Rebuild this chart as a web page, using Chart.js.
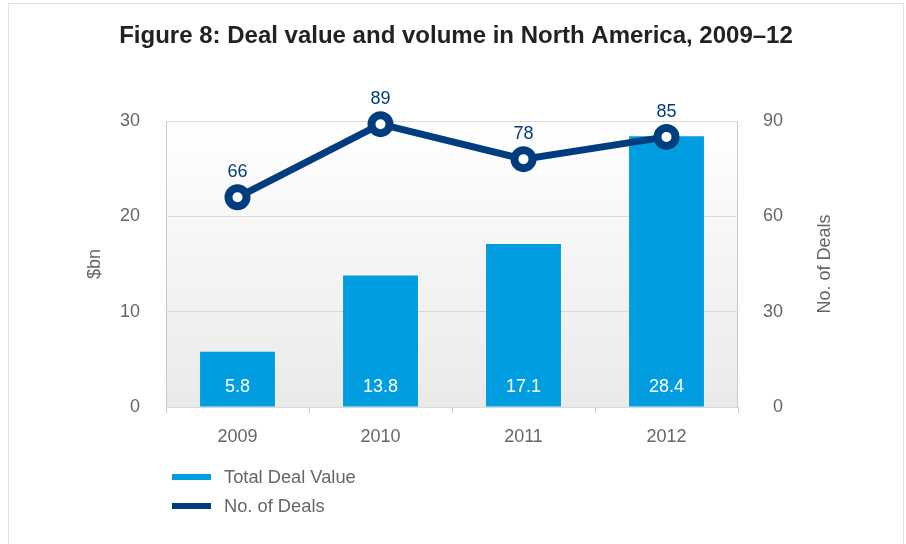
<!DOCTYPE html>
<html>
<head>
<meta charset="utf-8">
<script src="https://cdn.jsdelivr.net/npm/chart.js@4.4.0/dist/chart.umd.min.js"></script>
<style>
  body { margin: 0; background: #fff; font-family: "Liberation Sans", Arial, sans-serif; }
  #wrap { position: relative; width: 906px; height: 544px; overflow: hidden; }
  #frame { position: absolute; left: 8px; top: 3px; width: 896px; height: 600px; border: 1px solid #e3e3e3; box-sizing: border-box; }
  #myChart { position: absolute; left: 0; top: 0; }
  #legend { position: absolute; left: 172px; top: 462px; }
  .item { display: flex; align-items: center; height: 29px; font-size: 18.3px; color: #666; }
  .sw { width: 39px; height: 6px; margin-right: 13px; }
</style>
</head>
<body>
<div id="wrap">
  <div id="frame"></div>
  <canvas id="myChart" width="906" height="544"></canvas>
  <div id="legend"></div>
</div>
<script>
var years = ["2009", "2010", "2011", "2012"];
var dealValue = [5.8, 13.8, 17.1, 28.4];
var dealCount = [66, 89, 78, 85];
var leftTicks = [0, 10, 20, 30];
var rightTicks = [0, 30, 60, 90];
var titleText = "Figure 8: Deal value and volume in North America, 2009\u201312";

var barBlue = "#009ee0";
var navy = "#003d7e";
var grey = "#666666";
var fam = "'Liberation Sans', Arial, sans-serif";

// plot background + frame
var plotBg = {
  id: "plotBg",
  beforeDraw: function (chart) {
    var a = chart.chartArea, ctx = chart.ctx;
    var g = ctx.createLinearGradient(0, a.top, 0, a.bottom);
    g.addColorStop(0, "#ffffff");
    g.addColorStop(1, "#eaeaea");
    ctx.save();
    ctx.fillStyle = g;
    ctx.fillRect(a.left, a.top, a.right - a.left, a.bottom - a.top);
    ctx.strokeStyle = "#c9c9c9";
    ctx.lineWidth = 1;
    ctx.strokeRect(a.left + 0.5, a.top + 0.5, a.right - a.left - 1, a.bottom - a.top);
    ctx.restore();
  }
};

function vertText(ctx, txt, x, y) {
  ctx.save();
  ctx.translate(x, y);
  ctx.rotate(-Math.PI / 2);
  ctx.fillText(txt, 0, 0);
  ctx.restore();
}

// title, value labels on bars and points, axis titles
var labels = {
  id: "labels",
  afterDatasetsDraw: function (chart) {
    var ctx = chart.ctx;
    ctx.save();
    ctx.textAlign = "center";
    ctx.textBaseline = "middle";
    ctx.font = "bold 24px " + fam;
    ctx.fillStyle = "#222222";
    ctx.fillText(titleText, 456, 36);

    ctx.font = "18px " + fam;
    var bars = chart.getDatasetMeta(0).data;
    ctx.fillStyle = "#ffffff";
    bars.forEach(function (b, i) {
      ctx.fillText(String(dealValue[i]), b.x, b.base - 19);
    });
    var pts = chart.getDatasetMeta(1).data;
    ctx.fillStyle = navy;
    pts.forEach(function (p, i) {
      ctx.fillText(String(dealCount[i]), p.x, p.y - 25);
    });
    var a = chart.chartArea;
    var mid = (a.top + a.bottom) / 2;
    ctx.fillStyle = grey;
    vertText(ctx, "$bn", 95, mid);
    vertText(ctx, "No. of Deals", 825, mid);
    ctx.restore();
  }
};

var chart = new Chart("myChart", {
  data: {
    labels: years,
    datasets: [
      {
        type: "bar",
        label: "Total Deal Value",
        data: dealValue,
        backgroundColor: barBlue,
        yAxisID: "y",
        barPercentage: 0.524,
        categoryPercentage: 1,
        order: 1
      },
      {
        type: "line",
        label: "No. of Deals",
        data: dealCount,
        borderColor: navy,
        borderWidth: 7,
        backgroundColor: "#ffffff",
        pointBackgroundColor: "#ffffff",
        pointBorderColor: navy,
        pointRadius: 9,
        pointBorderWidth: 8,
        tension: 0,
        clip: false,
        yAxisID: "y1",
        order: 0
      }
    ]
  },
  options: {
    responsive: false,
    animation: false,
    layout: { padding: { left: 9, right: 123, top: 121, bottom: 0 } },
    plugins: {
      legend: { display: false },
      tooltip: { enabled: false },
      title: { display: false }
    },
    scales: {
      x: {
        offset: true,
        grid: { offset: true, drawOnChartArea: false, drawTicks: true, tickLength: 6, color: "#c9c9c9" },
        border: { display: false },
        ticks: { color: grey, font: { family: fam, size: 18 }, padding: 13 },
        afterFit: function (s) { s.height = 137; }
      },
      y: {
        position: "left",
        min: 0,
        max: 30,
        afterBuildTicks: function (s) { s.ticks = leftTicks.map(function (v) { return { value: v }; }); },
        grid: { color: "#d9d9d9", drawTicks: false },
        border: { display: false },
        ticks: { color: grey, font: { family: fam, size: 18 }, padding: 26 },
        afterFit: function (s) { s.width = 157; }
      },
      y1: {
        position: "right",
        min: 0,
        max: 90,
        afterBuildTicks: function (s) { s.ticks = rightTicks.map(function (v) { return { value: v }; }); },
        grid: { drawOnChartArea: false, drawTicks: false },
        border: { display: false },
        ticks: { color: grey, font: { family: fam, size: 18 }, padding: 26, crossAlign: "far" },
        afterFit: function (s) { s.width = 45; }
      }
    }
  },
  plugins: [plotBg, labels]
});

// legend as html from the datasets
var legend = document.getElementById("legend");
chart.data.datasets.forEach(function (ds) {
  var item = document.createElement("div");
  item.className = "item";
  var sw = document.createElement("span");
  sw.className = "sw";
  sw.style.background = ds.type === "bar" ? ds.backgroundColor : ds.borderColor;
  var t = document.createElement("span");
  t.textContent = ds.label;
  item.appendChild(sw);
  item.appendChild(t);
  legend.appendChild(item);
});
</script>
</body>
</html>
